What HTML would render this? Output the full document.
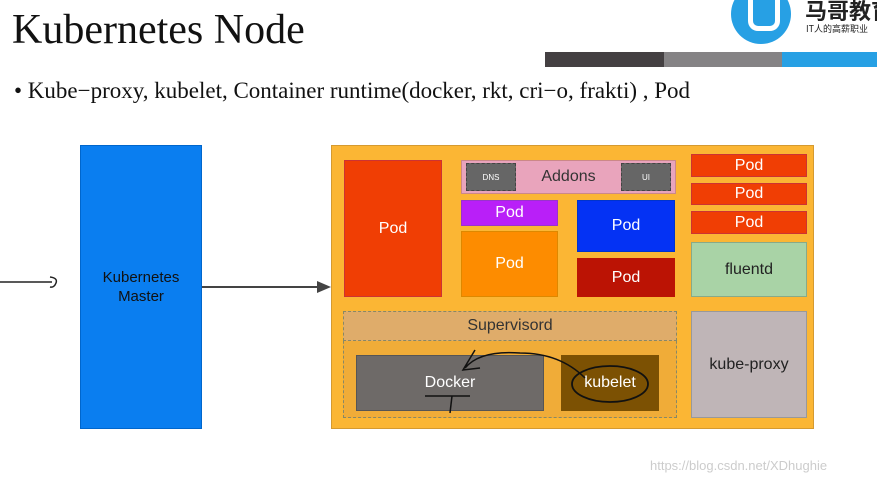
<!DOCTYPE html>
<html><head><style>
body{margin:0;width:877px;height:485px;background:#fff;position:relative;overflow:hidden;font-family:"Liberation Sans",sans-serif}
.b{position:absolute;box-sizing:border-box;display:flex;align-items:center;justify-content:center;color:#fff;font-size:16px}
.t{position:absolute;font-family:"Liberation Serif",serif;color:#111;white-space:nowrap}
</style></head><body>
<div class="t" style="left:12px;top:6px;font-size:42px">Kubernetes Node</div>
<div class="t" style="left:14px;top:78px;font-size:23px">• Kube−proxy, kubelet, Container runtime(docker, rkt, cri−o, frakti) , Pod</div>
<div style="position:absolute;left:545px;top:52px;width:119px;height:15px;background:#444042"></div>
<div style="position:absolute;left:664px;top:52px;width:118px;height:15px;background:#858385"></div>
<div style="position:absolute;left:782px;top:52px;width:95px;height:15px;background:#27a0e4"></div>
<div style="position:absolute;left:731px;top:-16px;width:60px;height:60px;border-radius:50%;background:#27a0e4"></div>
<div style="position:absolute;left:748px;top:0;width:22px;height:26px;border:5px solid #fff;border-top:none;border-radius:0 0 10px 10px"></div>
<div style="position:absolute;left:805px;top:-6px;font:bold 22px 'Noto Sans CJK SC',sans-serif;color:#222;white-space:nowrap">马哥教育</div>
<div style="position:absolute;left:806px;top:22px;font:9px 'Noto Sans CJK SC',sans-serif;color:#222;white-space:nowrap">IT人的高薪职业</div>
<div class="b" style="left:80px;top:145px;width:122px;height:284px;background:#0a7ef0;border:1px solid #06c;color:#111;font-size:15px;text-align:center;line-height:19px">Kubernetes<br>Master</div>
<svg style="position:absolute;left:0;top:0" width="877" height="485">
<line x1="0" y1="282" x2="52" y2="282" stroke="#222" stroke-width="1.5"/>
<path d="M50 277 q8 1 6 6 q-2 5 -6 4" fill="none" stroke="#222" stroke-width="1.5"/>
<line x1="202" y1="287" x2="320" y2="287" stroke="#444" stroke-width="2"/>
<polygon points="331,287 317,281 317,293" fill="#444"/>
</svg>
<div style="position:absolute;left:331px;top:145px;width:483px;height:284px;background:#fbb634;border:1px solid #d59a30;box-sizing:border-box"></div>
<div class="b" style="left:344px;top:160px;width:98px;height:137px;background:#f03e04;border:1px solid #c33">Pod</div>
<div class="b" style="left:461px;top:160px;width:215px;height:34px;background:#e9a4bc;border:1px solid #c88;color:#333">Addons</div>
<div class="b" style="left:466px;top:163px;width:50px;height:28px;background:#666;border:1px dashed #444;font-size:8px">DNS</div>
<div class="b" style="left:621px;top:163px;width:50px;height:28px;background:#666;border:1px dashed #444;font-size:8px">UI</div>
<div class="b" style="left:461px;top:200px;width:97px;height:26px;background:#b91ff8;border:1px solid #93c">Pod</div>
<div class="b" style="left:461px;top:231px;width:97px;height:66px;background:#fd8c00;border:1px solid #d80">Pod</div>
<div class="b" style="left:577px;top:200px;width:98px;height:52px;background:#0432f4;border:1px solid #03c">Pod</div>
<div class="b" style="left:577px;top:258px;width:98px;height:39px;background:#bb1304">Pod</div>
<div class="b" style="left:691px;top:154px;width:116px;height:23px;background:#f03e04;border:1px solid #c33">Pod</div>
<div class="b" style="left:691px;top:183px;width:116px;height:22px;background:#f03e04;border:1px solid #c33">Pod</div>
<div class="b" style="left:691px;top:211px;width:116px;height:23px;background:#f03e04;border:1px solid #c33">Pod</div>
<div class="b" style="left:691px;top:242px;width:116px;height:55px;background:#a9d3a6;border:1px solid #8a8;color:#222">fluentd</div>
<div class="b" style="left:691px;top:311px;width:116px;height:107px;background:#bfb5b7;border:1px solid #999;color:#222">kube-proxy</div>
<div style="position:absolute;left:343px;top:311px;width:334px;height:107px;border:1px dashed #886;box-sizing:border-box;background:#f0ac38"></div>
<div class="b" style="left:343px;top:311px;width:334px;height:30px;background:#dfac6a;border:1px dashed #886;color:#333">Supervisord</div>
<div class="b" style="left:356px;top:355px;width:188px;height:56px;background:#6e6a68;border:1px solid #555">Docker</div>
<div class="b" style="left:561px;top:355px;width:98px;height:56px;background:#7c5103">kubelet</div>
<svg style="position:absolute;left:0;top:0" width="877" height="485">
<path d="M475 350 L463 370 L480 368 M465 368 Q480 350 520 353 Q560 353 585 378" fill="none" stroke="#111" stroke-width="1.5"/>
<ellipse cx="610" cy="384" rx="38" ry="18" fill="none" stroke="#111" stroke-width="1.8"/>
<line x1="425" y1="396" x2="470" y2="396" stroke="#111" stroke-width="1.5"/>
<line x1="452" y1="396" x2="450" y2="413" stroke="#111" stroke-width="1.5"/>
</svg>
<div style="position:absolute;left:650px;top:458px;font-size:13px;color:#ccc">https://blog.csdn.net/XDhughie</div>
</body></html>
